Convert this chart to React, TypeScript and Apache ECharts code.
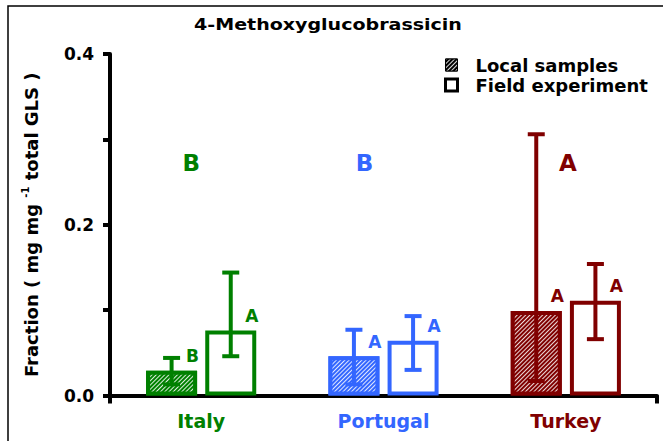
import React, { useEffect, useRef } from "react";
import * as echarts from "echarts";

const categories = ["Italy", "Portugal", "Turkey"];
const seriesNames = ["Local samples", "Field experiment"];
const localMeans = [0.029, 0.046, 0.099];
const fieldMeans = [0.076, 0.064, 0.111];
const localLow = [0.013, 0.013, 0.017];
const localHigh = [0.044, 0.077, 0.306];
const fieldLow = [0.046, 0.030, 0.066];
const fieldHigh = [0.144, 0.093, 0.154];
const localLetters = ["B", "A", "A"];
const fieldLetters = ["A", "A", "A"];
const groupLetters = ["B", "B", "A"];
const groupLetterLevel = [0.272, 0.272, 0.272];

const colors = ["#008000", "#3366ff", "#800000"];
const FONT = '"DejaVu Sans", "Liberation Sans", Arial, sans-serif';
const BAR_W = 51;
const BAR_GAP = 0.16;
const OFFSET = (BAR_W + BAR_W * BAR_GAP) / 2;
const groupLetterDx = [-10, -19, 2];

const hatch = () => ({
  symbol: "rect",
  symbolSize: 1,
  color: "rgba(255,255,255,0.85)",
  dashArrayX: [1, 0],
  dashArrayY: [1, 1.2],
  rotation: -Math.PI / 4,
});

function errorSeries(name: string, low: number[], high: number[], side: number) {
  return {
    type: "custom",
    name,
    silent: true,
    z: 10,
    data: low.map((l, i) => [i, l, high[i]]),
    encode: { x: 0, y: [1, 2] },
    renderItem: (params: any, api: any) => {
      const i = api.value(0);
      const lo = api.coord([i, api.value(1)]);
      const hi = api.coord([i, api.value(2)]);
      const x = lo[0] + side * OFFSET;
      const c = colors[i];
      const half = 8.5;
      const st = { stroke: c, lineWidth: 4 };
      return {
        type: "group",
        children: [
          { type: "line", shape: { x1: x, y1: hi[1], x2: x, y2: lo[1] }, style: st },
          { type: "line", shape: { x1: x - half, y1: hi[1], x2: x + half, y2: hi[1] }, style: st },
          { type: "line", shape: { x1: x - half, y1: lo[1], x2: x + half, y2: lo[1] }, style: st },
        ],
      };
    },
  };
}

export default function App() {
  const ref = useRef<HTMLDivElement>(null);
  useEffect(() => {
    if (!ref.current) return;
    const chart = echarts.init(ref.current, null, { renderer: "svg" });
    const option: any = {
      animation: false,
      backgroundColor: "#fff",
      grid: { left: 110, right: 9, top: 54, bottom: 45.5 },
      graphic: [
        {
          type: "polyline",
          shape: { points: [[8, 441], [8, 6], [663, 6]] },
          style: { stroke: "#000", lineWidth: 1.5, fill: "none" },
          silent: true,
        },
        {
          type: "text",
          x: 328,
          y: 25,
          scaleX: 1.19,
          style: {
            text: "4-Methoxyglucobrassicin",
            font: `bold 16px ${FONT}`,
            fill: "#000",
            textAlign: "center",
            textVerticalAlign: "middle",
          },
        },
      ],
      legend: {
        orient: "vertical",
        left: 444,
        top: 56,
        padding: 0,
        itemWidth: 12,
        itemHeight: 12,
        itemGap: 2,
        icon: "rect",
        selectedMode: false,
        textStyle: {
          fontFamily: FONT,
          fontWeight: "bold",
          fontSize: 18,
          color: "#000",
          padding: [0, 0, 0, 13],
        },
        data: [
          { name: seriesNames[0], itemStyle: { color: "#000", borderColor: "#000", borderWidth: 1, decal: hatch() } },
          { name: seriesNames[1], itemStyle: { color: "#fff", borderColor: "#000", borderWidth: 3 } },
        ],
      },
      xAxis: {
        type: "category",
        data: categories,
        axisLine: { lineStyle: { color: "#000", width: 4 } },
        axisTick: { show: true, length: 8, interval: (i: number) => i === 0, lineStyle: { color: "#000", width: 4 } },
        axisLabel: {
          margin: 16,
          fontFamily: FONT,
          fontWeight: "bold",
          fontSize: 19,
          color: (v: string) => colors[categories.indexOf(v)],
        },
      },
      yAxis: {
        type: "value",
        min: 0,
        max: 0.4,
        interval: 0.2,
        splitLine: { show: false },
        axisLine: { show: true, lineStyle: { color: "#000", width: 4 } },
        axisTick: { show: true, length: 7, lineStyle: { color: "#000", width: 4 } },
        minorTick: { show: true, splitNumber: 2, length: 7, lineStyle: { color: "#000", width: 4 } },
        axisLabel: {
          margin: 16,
          fontFamily: FONT,
          fontWeight: "bold",
          fontSize: 17,
          color: "#000",
          formatter: (v: number) => v.toFixed(1),
        },
        name: "{a|Fraction ( mg mg }{s|-1}{a| total GLS )}",
        nameLocation: "middle",
        nameGap: 68,
        nameTextStyle: {
          rich: {
            a: { fontFamily: FONT, fontWeight: "bold", fontSize: 18, color: "#000", lineHeight: 22 },
            s: { fontFamily: FONT, fontWeight: "bold", fontSize: 10, color: "#000", lineHeight: 10, verticalAlign: "top" },
          },
        },
      },
      series: [
        {
          type: "bar",
          name: seriesNames[0],
          barWidth: BAR_W,
          barGap: `${BAR_GAP * 100}%`,
          itemStyle: { color: "#000", decal: hatch() },
          label: {
            show: true,
            position: "top",
            distance: 0,
            offset: [21, -6],
            fontFamily: FONT,
            fontWeight: "bold",
            fontSize: 17,
            formatter: (p: any) => localLetters[p.dataIndex],
          },
          data: localMeans.map((v, i) => ({
            value: v,
            itemStyle: { color: colors[i], borderColor: colors[i], borderWidth: 4, decal: hatch() },
            label: { color: colors[i] },
          })),
        },
        {
          type: "bar",
          name: seriesNames[1],
          barWidth: BAR_W,
          barGap: `${BAR_GAP * 100}%`,
          itemStyle: { color: "#fff", borderColor: "#000", borderWidth: 3 },
          label: {
            show: true,
            position: "top",
            distance: 0,
            offset: [21, -6],
            fontFamily: FONT,
            fontWeight: "bold",
            fontSize: 17,
            formatter: (p: any) => fieldLetters[p.dataIndex],
          },
          data: fieldMeans.map((v, i) => ({
            value: v,
            itemStyle: { color: "#fff", borderColor: colors[i], borderWidth: 4 },
            label: { color: colors[i] },
          })),
        },
        errorSeries("err-local", localLow, localHigh, -1),
        errorSeries("err-field", fieldLow, fieldHigh, 1),
        {
          type: "custom",
          name: "group-letters",
          silent: true,
          data: groupLetterLevel.map((v, i) => [i, v]),
          encode: { x: 0, y: 1 },
          renderItem: (params: any, api: any) => {
            const i = api.value(0);
            const p = api.coord([i, api.value(1)]);
            return {
              type: "text",
              x: p[0] + groupLetterDx[i],
              y: p[1],
              style: {
                text: groupLetters[i],
                font: `bold 23px ${FONT}`,
                fill: colors[i],
                textAlign: "center",
                textVerticalAlign: "middle",
              },
            };
          },
        },
      ],
    };
    chart.setOption(option);
    return () => chart.dispose();
  }, []);
  return <div ref={ref} style={{ width: 666, height: 441, position: "fixed", left: 0, top: 0 }} />;
}
